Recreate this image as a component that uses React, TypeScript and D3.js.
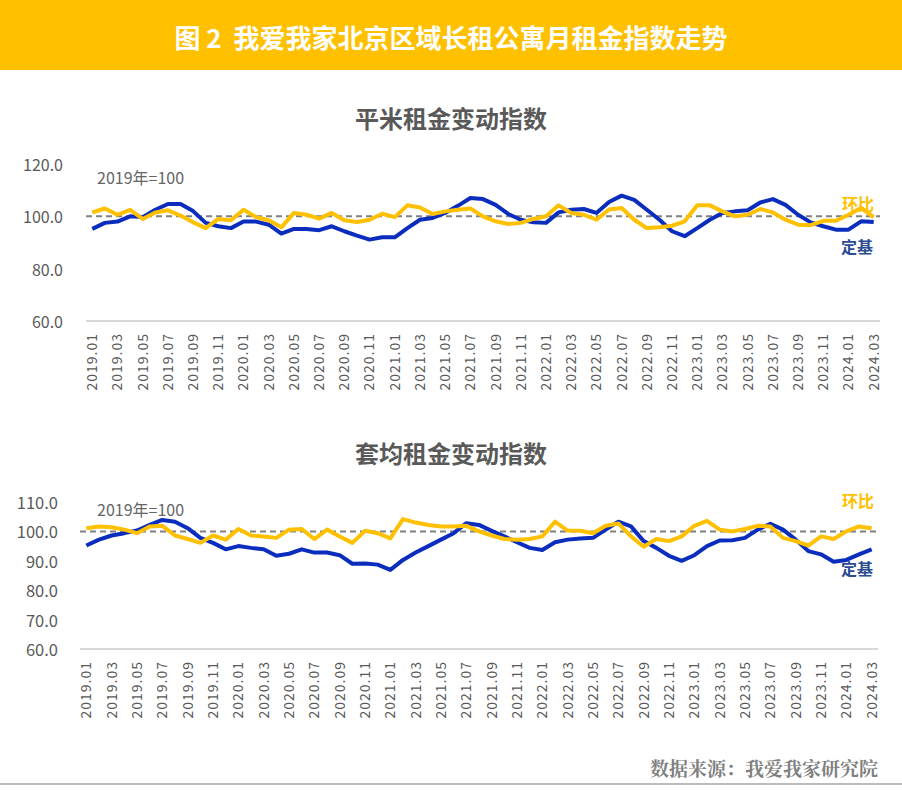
import React from "react";
import * as d3 from "d3";

const years = [2019, 2020, 2021, 2022, 2023, 2024];
const months: string[] = [];
years.forEach((y) => {
  for (let m = 1; m <= 12; m++) {
    if (y === 2024 && m > 3) break;
    months.push(`${y}.${String(m).padStart(2, "0")}`);
  }
});

// 平米租金变动指数
const sqmBase = [95.2, 97.5, 98, 100, 99.7, 102.5, 104.7, 104.7, 102, 97.5, 96.2, 95.5, 98, 98, 96.8, 93.4, 95.2, 95.2, 94.7, 96.2, 94.3, 92.6, 91.1, 92, 92, 95.5, 98.7, 99.4, 101.3, 104, 107, 106.6, 104.4, 100.9, 98.7, 97.7, 97.5, 101.5, 102.5, 102.8, 101.3, 105.5, 107.9, 106.3, 102.5, 98.7, 94.3, 92.4, 95.5, 98.7, 101.3, 101.9, 102.3, 105.3, 106.6, 104.4, 100.6, 97.7, 96.2, 94.9, 94.9, 98.1, 97.8];
const sqmMoM = [101.5, 103, 100.6, 102.5, 99, 101.5, 102.3, 100.3, 97.7, 95.5, 99, 98.5, 102.5, 99.7, 98.5, 95.8, 101.3, 100.6, 99.1, 101.3, 98.5, 97.8, 98.7, 101, 99.7, 104.2, 103.4, 100.9, 101.9, 102.5, 103, 100, 98.1, 97.1, 97.5, 99, 100, 104.2, 101.3, 100.6, 98.7, 102.6, 103.2, 98.7, 95.5, 95.8, 96.4, 98.1, 104.2, 104.2, 101.9, 100, 100.6, 102.8, 101.5, 98.7, 96.8, 96.6, 98.3, 98.3, 100.6, 103.2, 99.7];

// 套均租金变动指数
const unitBase = [95.2, 97.2, 98.6, 99.4, 100.3, 102.2, 103.9, 103.3, 101.1, 97.8, 96.1, 93.9, 95, 94.4, 93.9, 91.7, 92.4, 93.9, 92.8, 92.8, 91.9, 89, 89.1, 88.7, 86.9, 90.3, 92.8, 95, 97.2, 99.4, 102.8, 102.2, 100.2, 98.3, 96.3, 94.4, 93.7, 96.3, 97.2, 97.6, 97.8, 100.6, 103.3, 101.7, 96.7, 94.4, 91.7, 90, 91.9, 95, 96.9, 97, 97.8, 100.6, 102.6, 100.6, 97.2, 93.3, 92.2, 89.7, 90.3, 92.2, 93.9];
const unitMoM = [101.1, 101.7, 101.4, 100.6, 99.4, 101.7, 101.9, 98.6, 97.4, 96.1, 98.6, 97.2, 100.8, 98.6, 98.3, 97.8, 100.6, 100.8, 97.4, 100.6, 98.3, 96.1, 100.2, 99.4, 97.6, 104.2, 103, 102.2, 101.7, 101.7, 101.9, 100, 98.6, 97.4, 97.2, 97.4, 98.3, 103.3, 100.3, 100.2, 99.4, 101.9, 102.7, 98.3, 94.8, 97.4, 96.7, 98.3, 101.9, 103.6, 100.6, 100, 100.8, 101.9, 101.7, 97.8, 96.7, 95.2, 98.3, 97.4, 100, 101.7, 101.1];

const topTicks = [60, 80, 100, 120];
const bottomTicks = [60, 70, 80, 90, 100, 110];

const FONT = "'Noto Sans CJK SC', 'Noto Sans', sans-serif";
const BLUE = "#0A2DBE";
const YELLOW = "#FFC000";
const NAVY = "#2B4B93";
const GREY = "#595959";

type PanelProps = {
  title: string;
  titleY: number;
  base: number[];
  mom: number[];
  ticks: number[];
  xRange: [number, number];
  yDomain: [number, number];
  yRange: [number, number];
  noteY: number;
  noteX: number;
  labelY: number;
  momLabelY: number;
  baseLabelY: number;
  tickX: number;
  tickSize: number;
};

function Panel(p: PanelProps) {
  const x = d3.scaleBand<string>().domain(months).range(p.xRange).padding(0);
  const cx = (m: string) => (x(m) as number) + x.bandwidth() / 2;
  const y = d3.scaleLinear().domain(p.yDomain).range(p.yRange);
  const line = d3
    .line<number>()
    .x((_, i) => cx(months[i]))
    .y((v) => y(v));
  const axisY = y(p.yDomain[0]);
  return (
    <g>
      <text x={451} y={p.titleY} textAnchor="middle" dominantBaseline="central" fontSize={24} fontWeight="bold" fill={GREY} fontFamily={FONT}>
        {p.title}
      </text>
      {p.ticks.map((t) => (
        <text key={t} x={p.tickX} y={y(t)} textAnchor="end" dominantBaseline="central" fontSize={p.tickSize} fill={GREY} fontFamily={FONT}>
          {t.toFixed(1)}
        </text>
      ))}
      <line x1={p.xRange[0]} x2={p.xRange[1]} y1={axisY} y2={axisY} stroke="#D9D9D9" strokeWidth={2} />
      {months.map((m, i) =>
        i % 2 === 0 ? (
          <text key={m} transform={`translate(${cx(m)},${p.labelY}) rotate(-90)`} textAnchor="end" dy="0.35em" fontSize={14} letterSpacing={1} fill={GREY} fontFamily={FONT}>
            {m}
          </text>
        ) : null
      )}
      <line x1={p.xRange[0]} x2={p.xRange[1]} y1={y(100)} y2={y(100)} stroke="#808080" strokeWidth={2} strokeDasharray="6,4" />
      <path d={line(p.base) || ""} fill="none" stroke={BLUE} strokeWidth={4} strokeLinejoin="round" />
      <path d={line(p.mom) || ""} fill="none" stroke={YELLOW} strokeWidth={4} strokeLinejoin="round" />
      <text x={p.noteX} y={p.noteY} dominantBaseline="central" fontSize={16} fill="#666666" fontFamily={FONT}>
        2019年=100
      </text>
      <text x={858} y={p.momLabelY} textAnchor="middle" dominantBaseline="central" fontSize={16} fontWeight="bold" fill={YELLOW} fontFamily={FONT}>
        环比
      </text>
      <text x={857} y={p.baseLabelY} textAnchor="middle" dominantBaseline="central" fontSize={16} fontWeight="bold" fill={NAVY} fontFamily={FONT}>
        定基
      </text>
    </g>
  );
}

export default function App() {
  return (
    <svg width={902} height={791} style={{ position: "absolute", left: 0, top: 0, background: "#fff" }}>
      <rect x={0} y={0} width={902} height={791} fill="#fff" />
      <rect x={0} y={0} width={902} height={70} fill="#FFC000" />
      <text x={451} y={36} textAnchor="middle" dominantBaseline="central" fontSize={26} fontWeight="bold" fill="#fff" fontFamily={FONT} xmlSpace="preserve" style={{ whiteSpace: "pre" }}>
        {"图 2  我爱我家北京区域长租公寓月租金指数走势"}
      </text>
      <Panel
        title="平米租金变动指数"
        titleY={117}
        base={sqmBase}
        mom={sqmMoM}
        ticks={topTicks}
        xRange={[86, 880]}
        yDomain={[60, 120]}
        yRange={[321, 164]}
        noteX={97}
        noteY={177}
        labelY={333}
        momLabelY={203}
        baseLabelY={246}
        tickX={63}
        tickSize={16}
      />
      <Panel
        title="套均租金变动指数"
        titleY={452}
        base={unitBase}
        mom={unitMoM}
        ticks={bottomTicks}
        xRange={[80, 878]}
        yDomain={[60, 110]}
        yRange={[649, 502]}
        noteX={97}
        noteY={509}
        labelY={661}
        momLabelY={500}
        baseLabelY={568}
        tickX={58}
        tickSize={16.5}
      />
      <text x={878} y={767} textAnchor="end" dominantBaseline="central" fontSize={19} fontWeight="bold" fill="#808080" fontFamily="'Noto Serif CJK SC', 'Noto Sans CJK SC', serif">
        数据来源：我爱我家研究院
      </text>
      <line x1={0} x2={902} y1={784} y2={784} stroke="#A6A6A6" strokeWidth={1.5} />
    </svg>
  );
}
